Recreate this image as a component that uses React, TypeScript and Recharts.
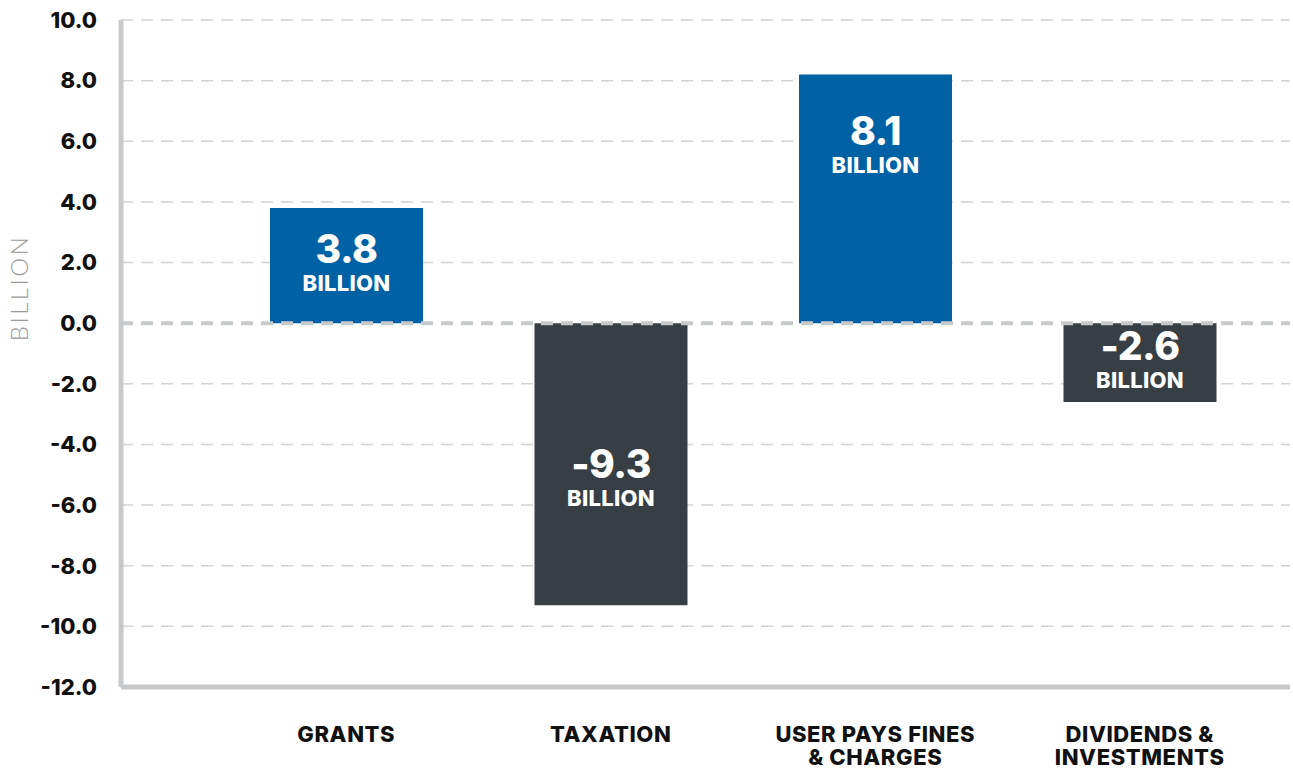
import { BarChart, Bar, XAxis, YAxis, CartesianGrid, ReferenceLine, LabelList, Label, Cell } from 'recharts';

const categories = ['GRANTS', 'TAXATION', 'USER PAYS FINES\n& CHARGES', 'DIVIDENDS &\nINVESTMENTS'];
const values = [3.8, -9.3, 8.2, -2.6];
const valueLabels = ['3.8', '-9.3', '8.1', '-2.6'];
const yTicks = [-12, -10, -8, -6, -4, -2, 0, 2, 4, 6, 8, 10];

const BLUE = '#0061a4';
const DARK = '#373e44';
const AXIS_GREY = '#c8c9cb';
const FONT = 'Inter, "Open Sans", sans-serif';

// vertical nudge of the value label block inside each bar
const LABEL_SHIFT = [0, 17, -51, 0];

const data = categories.map((name, i) => ({ name, value: values[i], label: valueLabels[i] }));

function XTick({ x, y, payload }: any) {
  const lines = String(payload.value).split('\n');
  return (
    <text x={x} y={y + 55} textAnchor="middle" fill="#111" fontFamily={FONT} fontWeight={800} fontSize={22} letterSpacing={0.6}>
      {lines.map((line, i) => (
        <tspan key={i} x={x} dy={i === 0 ? 0 : 23}>
          {line}
        </tspan>
      ))}
    </text>
  );
}

function BarLabel({ x, y, width, height, index }: any) {
  const cx = x + width / 2;
  const cy = y + height / 2 + LABEL_SHIFT[index];
  return (
    <g fill="#fff" fontFamily={FONT} fontWeight={800} textAnchor="middle">
      <text x={cx} y={cy - 17 + 14} fontSize={39} letterSpacing={-0.5}>
        {data[index].label}
      </text>
      <text x={cx} y={cy + 17 + 8} fontSize={22} letterSpacing={0.3}>
        BILLION
      </text>
    </g>
  );
}

function YLabel() {
  return (
    <text
      x={28}
      y={288}
      transform="rotate(-90 28 288)"
      textAnchor="middle"
      fill="#9b9b9b"
      fontFamily='Lato, "Open Sans", sans-serif'
      fontWeight={300}
      fontSize={24}
      letterSpacing={2.5}
    >
      BILLION
    </text>
  );
}

export default function App() {
  return (
    <div style={{ width: 1293, height: 769, background: '#fff' }}>
      <style>{'body{margin:0}'}</style>
      <BarChart width={1293} height={769} data={data} margin={{ top: 20, right: 3, bottom: 52, left: 0 }}>
        <CartesianGrid vertical={false} stroke="#d2d2d2" strokeWidth={1.5} strokeDasharray="12 8" />
        <XAxis
          dataKey="name"
          height={30}
          interval={0}
          padding={{ left: 93, right: 18 }}
          axisLine={{ stroke: AXIS_GREY, strokeWidth: 5 }}
          tickLine={false}
          tickSize={0}
          tickMargin={0}
          tick={<XTick />}
        />
        <YAxis
          width={121}
          domain={[-12, 10]}
          ticks={yTicks}
          interval={0}
          axisLine={{ stroke: AXIS_GREY, strokeWidth: 5 }}
          tickLine={false}
          tickSize={0}
          tickMargin={24}
          tickFormatter={(v: number) => v.toFixed(1)}
          tick={{ fill: '#111', fontFamily: FONT, fontWeight: 800, fontSize: 22 }}
        >
          <Label content={<YLabel />} />
        </YAxis>
        <ReferenceLine y={0} stroke={AXIS_GREY} strokeWidth={4} strokeDasharray="12 8" />
        <Bar dataKey="value" barSize={153} isAnimationActive={false}>
          {data.map((d, i) => (
            <Cell key={i} fill={d.value >= 0 ? BLUE : DARK} />
          ))}
          <LabelList dataKey="value" content={<BarLabel />} />
        </Bar>
      </BarChart>
    </div>
  );
}
